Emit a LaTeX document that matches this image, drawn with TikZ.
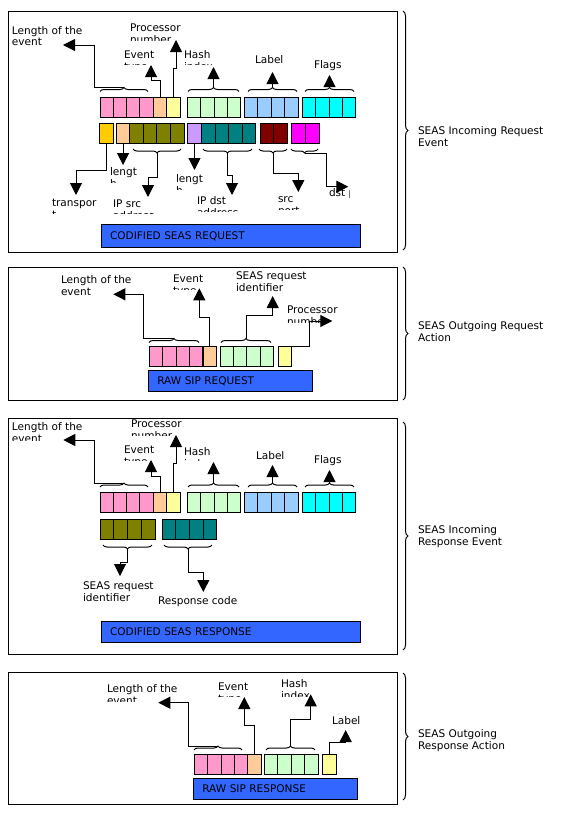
\documentclass[tikz,border=0pt]{standalone}
\usepackage{fontspec}
\setmainfont{DejaVu Sans}
\usetikzlibrary{arrows.meta,decorations.pathreplacing,calc}
\definecolor{pinkc}{HTML}{FF99CC}
\definecolor{peachc}{HTML}{FFCC99}
\definecolor{yellowc}{HTML}{FFFF99}
\definecolor{lgreenc}{HTML}{CCFFCC}
\definecolor{lbluec}{HTML}{99CCFF}
\definecolor{cyanc}{HTML}{00FFFF}
\definecolor{goldc}{HTML}{FFCC00}
\definecolor{olivec}{HTML}{808000}
\definecolor{purplec}{HTML}{CC99FF}
\definecolor{tealc}{HTML}{008080}
\definecolor{darkredc}{HTML}{800000}
\definecolor{magentac}{HTML}{FF00FF}
\definecolor{barblue}{HTML}{3366FF}
\def\px{0.75pt}
\tikzset{
  cell/.style={draw=black, line width=0.75pt, anchor=north west, inner sep=0pt, outer sep=0pt, minimum height=20*\px},
  frame/.style={draw=black, line width=0.75pt},
  lbl/.style={anchor=north west, inner sep=0pt, outer sep=0pt, align=left, font=\fontsize{7.9}{9}\selectfont},
  arr/.style={line width=0.75pt, -{Triangle[length=9pt,width=9pt]}},
  sbrace/.style={line width=0.75pt, decorate, decoration={brace, amplitude=3pt}},
  bbrace/.style={line width=0.75pt, decorate, decoration={brace, amplitude=3.75pt}},
  bar/.style={draw=black, fill=barblue, line width=0.75pt, anchor=north west, inner ysep=0pt, inner xsep=9*\px, outer sep=0pt, text height=5.8pt, text depth=0pt, align=left, font=\fontsize{7.9}{9}\selectfont}
}
\newcommand\cellrow[6]{%
  \foreach \i in {1,...,#4}{%
    \node[cell, fill=#6, minimum width=#5*\px] (#1\i) at ({#2+(\i-1)*#5},#3) {};
  }}
\newcommand\lab[4]{\node[lbl] (#1) at (#2,#3-8.4) {\strut #4};}
\newcommand\clbl[6]{%
  \begin{scope}
    \clip (#2-4,#3-14) rectangle (#4,#5);
    \node[lbl] (#1) at (#2,#3-8.4) {\strut #6};
  \end{scope}}
\begin{document}
\begin{tikzpicture}[x=0.75pt,y=-0.75pt]
\useasboundingbox (0,0) rectangle (574,821);
\fill[white] (0,0) rectangle (574,821);

% ---------- frames ----------
\draw[frame] (8,11) rectangle (397.5,252);
\draw[frame] (8,267) rectangle (397.5,400);
\draw[frame] (8,418) rectangle (397.5,654);
\draw[frame] (8,672) rectangle (397.5,804);

% ---------- right braces and labels ----------
\draw[bbrace] (403,11) -- (403,250);
\draw[bbrace] (403,267) -- (403,400);
\draw[bbrace] (403,422) -- (403,650);
\draw[bbrace] (403,673) -- (403,800);
\lab{r1}{418}{134.5}{SEAS Incoming Request\\Event}
\lab{r2}{418}{329.5}{SEAS Outgoing Request\\Action}
\lab{r3}{418}{533.7}{SEAS Incoming\\Response Event}
\lab{r4}{418}{737.7}{SEAS Outgoing\\Response Action}

% =========== Panel 1 ===========
\cellrow{aP}{100}{97}{4}{13.33}{pinkc}
\cellrow{aE}{153.3}{97}{1}{13.4}{peachc}
\cellrow{aY}{166.7}{97}{1}{13.3}{yellowc}
\cellrow{aG}{187.3}{97}{4}{13.35}{lgreenc}
\cellrow{aB}{244.3}{97}{4}{13.5}{lbluec}
\cellrow{aC}{302.3}{97}{4}{13.35}{cyanc}
\cellrow{aT}{99.3}{123}{1}{14}{goldc}
\cellrow{aL}{116.7}{123}{1}{12.7}{peachc}
\cellrow{aS}{129.4}{123}{4}{13.75}{olivec}
\cellrow{aM}{187.3}{123}{1}{14.4}{purplec}
\cellrow{aD}{201.7}{123}{4}{13.5}{tealc}
\cellrow{aR}{260}{123}{2}{13.67}{darkredc}
\cellrow{aN}{291}{123}{2}{14.15}{magentac}
\node[bar, text width=241*\px, minimum height=23*\px] (bar1) at (101,224) {CODIFIED SEAS REQUEST};

\draw[sbrace] (100,91.5) -- (148,91.5);
\draw[sbrace] (188,91.5) -- (239,91.5);
\draw[sbrace] (248,91.5) -- (297,91.5);
\draw[sbrace] (305,91.5) -- (354,91.5);
\draw[sbrace] (181,149) -- (133,149);
\draw[sbrace] (252,149) -- (203,149);
\draw[sbrace] (287,149) -- (259,149);
\draw[sbrace] (318,149) -- (291,149);
\coordinate (t1P) at (124,87.5);
\coordinate (t1G) at (213.5,87.5);
\coordinate (t1B) at (272.5,87.5);
\coordinate (t1C) at (329.5,87.5);
\coordinate (t1S) at (157,153);
\coordinate (t1D) at (227.5,153);
\coordinate (t1R) at (273,153);
\coordinate (t1N) at (304.5,153);

\lab{l1len}{12}{34}{Length of the\\event}
\clbl{l1proc}{130}{31}{250}{40}{Processor\\number}
\clbl{l1evt}{124}{58}{250}{64}{Event\\type}
\clbl{l1hash}{184}{58}{300}{64}{Hash\\index}
\lab{l1label}{255}{63}{Label}
\lab{l1flags}{314}{68}{Flags}
\clbl{l1tr}{52}{206}{150}{213}{transpor\\t}
\clbl{l1len2}{110}{175}{200}{182}{lengt\\h}
\clbl{l1src}{113}{207}{200}{213}{IP src\\address}
\clbl{l1len3}{176}{182}{250}{189}{lengt\\h}
\clbl{l1dst}{197}{204}{300}{211}{IP dst\\address}
\clbl{l1sp}{278}{202}{350}{209}{src\\port}
\clbl{l1dp}{329}{196}{349.2}{203}{dst port}

\coordinate (e1len) at (63,45);
\coordinate (e1evt) at (151,65);
\coordinate (e1proc) at (176,40);
\coordinate (e1hash) at (213.5,67);
\coordinate (e1lab) at (272.5,72);
\coordinate (e1flag) at (329.5,75);
\coordinate (e1tr) at (76,195);
\coordinate (e1len2) at ($(aL1.south)+(0,22)$);
\coordinate (e1src) at (148,197);
\coordinate (e1len3) at ($(aM1.south)+(0,27)$);
\coordinate (e1dst) at (232,195);
\coordinate (e1sp) at (298.3,192);
\coordinate (e1dp) at (348.3,186.7);

\draw[arr] (t1P) -- ++(-29.7,0) |- (e1len);
\draw[arr] (aE1.north) -- ++(0,-17) -| (e1evt);
\draw[arr] (aY1.north) -- ++(0,-28.7) -| (e1proc);
\draw[arr] (t1G) -- (e1hash);
\draw[arr] (t1B) -- (e1lab);
\draw[arr] (t1C) -- (e1flag);
\draw[arr] (aT1.south) -- ++(0,27.7) -| (e1tr);
\draw[arr] (aL1.south) -- (e1len2);
\draw[arr] (t1S) -- ++(0,24) -| (e1src);
\draw[arr] (aM1.south) -- (e1len3);
\draw[arr] (t1D) -- ++(0,22) -| (e1dst);
\draw[arr] (t1R) -- ++(0,20.3) -| (e1sp);
\draw[arr] (t1N) -- ++(22,0) |- (e1dp);

% =========== Panel 2 ===========
\cellrow{bP}{149.3}{346}{4}{13.4}{pinkc}
\cellrow{bE}{203}{346}{1}{13.7}{peachc}
\cellrow{bG}{220.7}{346}{4}{13.1}{lgreenc}
\cellrow{bY}{278.3}{346}{1}{13.4}{yellowc}
\node[bar, text width=146*\px, minimum height=21*\px] (bar2) at (148.3,370) {RAW SIP REQUEST};

\draw[sbrace] (149,342.5) -- (199,342.5);
\draw[sbrace] (221,342.5) -- (271,342.5);
\coordinate (t2P) at (174,338.5);
\coordinate (t2G) at (246,338.5);

\lab{l2len}{61}{283}{Length of the\\event}
\clbl{l2evt}{173}{282}{250}{289}{Event\\type}
\lab{l2id}{236}{279}{SEAS request\\identifier}
\clbl{l2proc}{287}{313}{390}{322}{Processor\\number}

\coordinate (e2len) at (113.3,294.3);
\coordinate (e2evt) at (199.3,288.3);
\coordinate (e2id) at (272.7,296);
\coordinate (e2proc) at (332.3,321);

\draw[arr] (t2P) -- ++(-30.7,0) |- (e2len);
\draw[arr] (bE1.north) -- ++(0,-28.7) -| (e2evt);
\draw[arr] (t2G) -- ++(0,-23.5) -| (e2id);
\draw[arr] (bY1.north east) -- ++(17.3,0) |- (e2proc);

% =========== Panel 3 ===========
\cellrow{cP}{100}{492}{4}{13.33}{pinkc}
\cellrow{cE}{153.3}{492}{1}{13.4}{peachc}
\cellrow{cY}{166.7}{492}{1}{13.3}{yellowc}
\cellrow{cG}{187.3}{492}{4}{13.35}{lgreenc}
\cellrow{cB}{244.3}{492}{4}{13.5}{lbluec}
\cellrow{cC}{302.3}{492}{4}{13.35}{cyanc}
\cellrow{cS}{100}{519}{4}{13.9}{olivec}
\cellrow{cD}{162.3}{519}{4}{13.6}{tealc}
\node[bar, text width=241*\px, minimum height=21.5*\px] (bar3) at (101,621) {CODIFIED SEAS RESPONSE};

\draw[sbrace] (100,487) -- (148,487);
\draw[sbrace] (188,487) -- (239,487);
\draw[sbrace] (248,487) -- (297,487);
\draw[sbrace] (305,487) -- (354,487);
\draw[sbrace] (152,545) -- (103,545);
\draw[sbrace] (212,545) -- (164,545);
\coordinate (t3P) at (124,483);
\coordinate (t3G) at (213.5,483);
\coordinate (t3B) at (272.5,483);
\coordinate (t3C) at (329.5,483);
\coordinate (t3S) at (127.5,549);
\coordinate (t3D) at (188,549);

\clbl{l3len}{12}{430}{100}{440.5}{Length of the\\event}
\clbl{l3proc}{131}{427}{250}{435}{Processor\\number}
\clbl{l3evt}{124}{453}{250}{460}{Event\\type}
\clbl{l3hash}{184}{455}{300}{460}{Hash\\index}
\lab{l3label}{256}{459}{Label}
\lab{l3flags}{314}{463}{Flags}
\lab{l3id}{83}{589}{SEAS request\\identifier}
\lab{l3resp}{158}{604}{Response code}

\coordinate (e3len) at (63.3,440);
\coordinate (e3evt) at (151,460);
\coordinate (e3proc) at (176,435);
\coordinate (e3hash) at (213.5,462);
\coordinate (e3lab) at (272.5,465);
\coordinate (e3flag) at (329.5,470);
\coordinate (e3id) at (120,576);
\coordinate (e3resp) at (203.3,592);

\draw[arr] (t3P) -- ++(-29.7,0) |- (e3len);
\draw[arr] (cE1.north) -- ++(0,-16) -| (e3evt);
\draw[arr] (cY1.north) -- ++(0,-29) -| (e3proc);
\draw[arr] (t3G) -- (e3hash);
\draw[arr] (t3B) -- (e3lab);
\draw[arr] (t3C) -- (e3flag);
\draw[arr] (t3S) -- ++(0,13) -| (e3id);
\draw[arr] (t3D) -- ++(0,23.3) -| (e3resp);

% =========== Panel 4 ===========
\cellrow{dP}{194.3}{754}{4}{13.4}{pinkc}
\cellrow{dE}{247.7}{754}{1}{14}{peachc}
\cellrow{dG}{264.3}{754}{4}{13.5}{lgreenc}
\cellrow{dY}{322.3}{754}{1}{14.3}{yellowc}
\node[bar, text width=146.4*\px, minimum height=21*\px] (bar4) at (193.3,778) {RAW SIP RESPONSE};

\draw[sbrace] (194,750) -- (242,750);
\draw[sbrace] (266,750) -- (315,750);
\coordinate (t4P) at (218,746);
\coordinate (t4G) at (290.5,746);

\clbl{l4len}{107}{692}{250}{701.5}{Length of the\\event}
\clbl{l4evt}{218}{690}{300}{696}{Event\\type}
\clbl{l4hash}{281}{687}{350}{696.5}{Hash\\index}
\lab{l4label}{332}{724}{Label}

\coordinate (e4len) at (158.3,702.7);
\coordinate (e4evt) at (244.3,697);
\coordinate (e4hash) at (310.7,694.3);
\coordinate (e4lab) at (345.7,730);

\draw[arr] (t4P) -- ++(-29.7,0) |- (e4len);
\draw[arr] (dE1.north) -- ++(0,-29) -| (e4evt);
\draw[arr] (t4G) -- ++(0,-26.7) -| (e4hash);
\draw[arr] (dY1.north) -- ++(0,-11.5) -| (e4lab);
\end{tikzpicture}
\end{document}
